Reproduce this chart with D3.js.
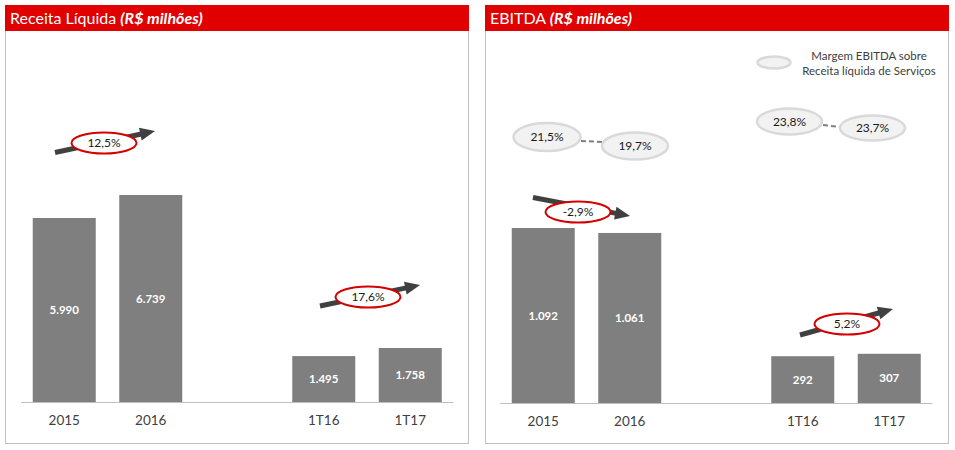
<!DOCTYPE html>
<html>
<head>
<meta charset="utf-8">
<script src="https://cdn.jsdelivr.net/npm/d3@7/dist/d3.min.js"></script>
<style>
  body { margin: 0; background: #fff; }
  svg { display: block; }
  text { font-family: Lato, "Open Sans", sans-serif; }
</style>
</head>
<body>
<svg id="chart" width="955" height="450"></svg>
<script>
// ---------- data ----------
const categories = ["2015", "2016", "1T16", "1T17"];
const receitaValues = [5990, 6739, 1495, 1758];
const receitaLabels = ["5.990", "6.739", "1.495", "1.758"];
const ebitdaValues = [1092, 1061, 292, 307];
const ebitdaLabels = ["1.092", "1.061", "292", "307"];
const receitaGrowth = ["12,5%", "17,6%"];
const ebitdaGrowth = ["-2,9%", "5,2%"];
const ebitdaMargins = ["21,5%", "19,7%", "23,8%", "23,7%"];
const titles = [
  { main: "Receita Líquida ", sub: "(R$ milhões)" },
  { main: "EBITDA ", sub: "(R$ milhões)" }
];
const legendLines = ["Margem EBITDA sobre", "Receita líquida de Serviços"];

// ---------- layout ----------
const svg = d3.select("#chart");
const slots = ["2015", "2016", "gap", "1T16", "1T17"];
const barColor = "#7f7f7f";
const textColor = "#404040";

function panel(cfg) {
  const g = svg.append("g");
  // frame
  g.append("rect").attr("x", cfg.x0 + 0.5).attr("y", 5.5)
    .attr("width", cfg.w).attr("height", 438)
    .attr("fill", "#fff").attr("stroke", "#bfbfbf").attr("stroke-width", 1);
  // header
  g.append("rect").attr("x", cfg.x0).attr("y", 5)
    .attr("width", cfg.w + 1).attr("height", 26).attr("fill", "#e00000");
  const t = g.append("text").attr("x", cfg.x0 + 5).attr("y", 24)
    .attr("fill", "#fff").attr("font-size", 16);
  t.append("tspan").text(cfg.title.main);
  t.append("tspan").attr("font-weight", "bold").attr("font-style", "italic").text(cfg.title.sub);

  const x = d3.scaleBand().domain(slots).range(cfg.xRange)
    .paddingInner(0.2717).paddingOuter(0.1358);
  const y = d3.scaleLinear().domain(cfg.yDomain).range(cfg.yRange);

  // bars
  g.selectAll("rect.bar").data(categories).join("rect").attr("class", "bar")
    .attr("x", d => x(d)).attr("width", x.bandwidth())
    .attr("y", (d, i) => y(cfg.values[i]))
    .attr("height", (d, i) => y(0) - y(cfg.values[i]))
    .attr("fill", barColor);

  // value labels
  g.selectAll("text.val").data(categories).join("text").attr("class", "val")
    .attr("x", d => x(d) + x.bandwidth() / 2)
    .attr("y", (d, i) => (y(0) + y(cfg.values[i])) / 2)
    .attr("dy", "0.35em").attr("text-anchor", "middle")
    .attr("fill", "#fff").attr("font-weight", "bold").attr("font-size", 11.5)
    .text((d, i) => cfg.labels[i]);

  // axis
  const axis = d3.axisBottom(x).tickSize(0).tickPadding(13)
    .tickFormat(d => d === "gap" ? "" : d);
  const ax = g.append("g").attr("transform", `translate(0,${y(0)})`).call(axis);
  ax.select(".domain").attr("stroke", "#bfbfbf").attr("stroke-width", 1)
    .attr("d", `M${cfg.xRange[0]},0.5H${cfg.xRange[1]}`);
  ax.selectAll(".tick text").attr("fill", textColor).attr("font-size", 13.5)
    .style("font-family", "Lato, 'Open Sans', sans-serif");

  return { g, x, y };
}

function arrow(g, x1, y1, x2, y2) {
  const ang = Math.atan2(y2 - y1, x2 - x1);
  const headLen = 15, headHalf = 6.5;
  const bx = x2 - headLen * Math.cos(ang), by = y2 - headLen * Math.sin(ang);
  g.append("line").attr("x1", x1).attr("y1", y1).attr("x2", bx + 1 * Math.cos(ang)).attr("y2", by + 1 * Math.sin(ang))
    .attr("stroke", "#404040").attr("stroke-width", 5);
  const px = -Math.sin(ang), py = Math.cos(ang);
  g.append("polygon").attr("points", [
    [x2, y2],
    [bx + px * headHalf, by + py * headHalf],
    [bx - px * headHalf, by - py * headHalf]
  ].map(p => p.join(",")).join(" ")).attr("fill", "#404040");
}

function redBadge(g, cx, cy, txt) {
  g.append("ellipse").attr("cx", cx).attr("cy", cy).attr("rx", 32.5).attr("ry", 10.5)
    .attr("fill", "#fff").attr("stroke", "#d40000").attr("stroke-width", 2);
  g.append("text").attr("x", cx).attr("y", cy).attr("dy", "0.36em")
    .attr("text-anchor", "middle").attr("font-size", 12).attr("fill", "#1a1a1a").text(txt);
}

function grayBadge(g, cx, cy, rx, ry, txt) {
  g.append("ellipse").attr("cx", cx).attr("cy", cy).attr("rx", rx).attr("ry", ry)
    .attr("fill", "#f2f2f2").attr("stroke", "#d9d9d9").attr("stroke-width", 2.5);
  if (txt) g.append("text").attr("x", cx).attr("y", cy).attr("dy", "0.36em")
    .attr("text-anchor", "middle").attr("font-size", 12).attr("fill", "#1a1a1a").text(txt);
}

function dash(g, x1, y1, x2, y2) {
  g.append("line").attr("x1", x1).attr("y1", y1).attr("x2", x2).attr("y2", y2)
    .attr("stroke", "#7f7f7f").attr("stroke-width", 2).attr("stroke-dasharray", "5,3");
}

// ---------- left panel ----------
const L = panel({
  x0: 5, w: 463, title: titles[0],
  xRange: [21, 453.5], yDomain: [0, 6739], yRange: [402, 195],
  values: receitaValues, labels: receitaLabels
});
arrow(L.g, 55, 152.5, 155, 131);
redBadge(L.g, 104, 143, receitaGrowth[0]);
arrow(L.g, 320, 306, 420, 285);
redBadge(L.g, 368, 297, receitaGrowth[1]);

// ---------- right panel ----------
const R = panel({
  x0: 485, w: 463, title: titles[1],
  xRange: [500, 932.5], yDomain: [0, 1092], yRange: [403, 228],
  values: ebitdaValues, labels: ebitdaLabels
});
arrow(R.g, 533, 197.5, 630, 216);
redBadge(R.g, 578, 212, ebitdaGrowth[0]);
arrow(R.g, 800, 335, 893, 309);
redBadge(R.g, 847, 324, ebitdaGrowth[1]);

dash(R.g, 581, 141, 603, 142);
grayBadge(R.g, 547, 137, 33.5, 14, ebitdaMargins[0]);
grayBadge(R.g, 635, 146, 33, 13.5, ebitdaMargins[1]);
dash(R.g, 823, 125, 840, 127);
grayBadge(R.g, 789.5, 121.5, 32.5, 13, ebitdaMargins[2]);
grayBadge(R.g, 872.5, 128, 32.5, 12.5, ebitdaMargins[3]);

// legend
grayBadge(R.g, 774, 62.5, 16.5, 6, null);
R.g.selectAll("text.leg").data(legendLines).join("text").attr("class", "leg")
  .attr("x", 869).attr("y", (d, i) => 60 + i * 15)
  .attr("text-anchor", "middle").attr("font-size", 11.5).attr("fill", textColor)
  .text(d => d);
</script>
</body>
</html>
